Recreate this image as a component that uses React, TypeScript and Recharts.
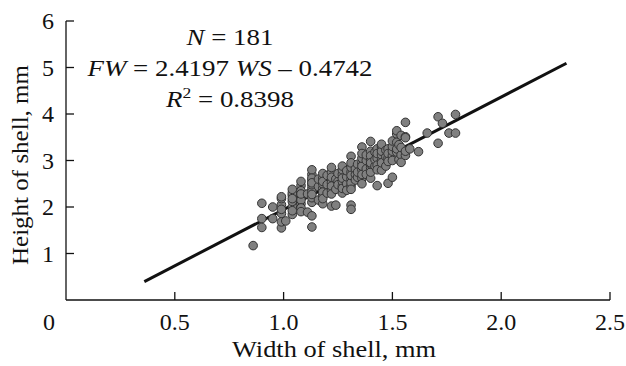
import React from 'react'
import { ScatterChart, Scatter, XAxis, YAxis, ReferenceLine } from 'recharts'

// columns of shell measurements: width (mm) and the heights found at that width
const widthColumns = [
  0.86, 0.90, 0.95, 0.99, 1.01, 1.04, 1.08, 1.11, 1.13, 1.16, 1.18, 1.20, 1.22, 1.24, 1.25,
  1.27, 1.29, 1.31, 1.33, 1.34, 1.36, 1.38, 1.40, 1.42, 1.43, 1.45, 1.47, 1.48, 1.50, 1.52,
  1.53, 1.54, 1.56, 1.58, 1.62, 1.66, 1.71, 1.73, 1.76, 1.79,
]
const heightColumns = [
  [1.17],
  [2.08, 1.75, 1.56],
  [1.75, 2.0],
  [2.05, 1.86, 1.55, 2.18, 2.22, 1.95, 1.68],
  [1.7],
  [2.25, 2.0, 1.84, 2.12, 2.3, 1.92, 2.18, 2.38],
  [2.07, 2.46, 2.35, 2.2, 2.55, 2.15, 1.98, 2.28, 1.9],
  [1.89, 2.28],
  [1.81, 1.57, 2.57, 2.7, 2.8, 2.4, 2.33, 2.48, 2.62, 2.1, 2.2, 2.52, 2.27],
  [2.44, 2.6, 2.15],
  [2.07, 2.25, 2.4, 2.62, 2.72, 2.5, 2.32, 2.55, 2.18],
  [2.48, 2.3, 2.68],
  [2.02, 2.36, 2.52, 2.75, 2.64, 2.45, 2.28, 2.85],
  [2.04, 2.6, 2.38],
  [2.55, 2.72, 2.48],
  [2.45, 2.7, 2.55, 2.8, 2.62, 2.3, 2.88, 2.4],
  [2.5, 2.65, 2.78, 2.36],
  [2.04, 1.95, 3.09, 2.45, 2.6, 2.75, 2.85, 2.52, 2.68, 2.38, 2.95],
  [2.7, 2.58, 2.82],
  [2.64, 2.92, 2.75],
  [2.62, 2.8, 2.95, 3.29, 2.7, 2.88, 3.05, 3.15, 2.5],
  [2.82, 3.0, 2.7, 3.12],
  [2.62, 2.85, 3.0, 3.41, 3.2, 2.75, 2.92, 3.1, 2.95],
  [2.88, 3.18, 3.02],
  [2.46, 3.05, 3.25, 2.9, 2.8, 3.15],
  [2.79, 3.0, 3.12, 3.3, 2.95, 3.2, 3.35],
  [3.08, 3.22, 2.88],
  [2.51, 3.05, 3.25, 3.15, 2.98],
  [2.64, 3.1, 3.2, 3.3, 3.0, 3.42],
  [3.57, 3.64, 3.39, 3.18, 3.25],
  [3.34, 3.02],
  [3.54, 3.12, 3.28, 2.96],
  [3.51, 3.49, 3.82, 3.11, 3.2],
  [3.25],
  [3.19],
  [3.59],
  [3.94, 3.37],
  [3.8],
  [3.59],
  [3.99, 3.59],
]

// FW = 2.4197 WS - 0.4742, drawn between these widths
const slope = 2.4197
const intercept = -0.4742
const fitFrom = 0.36
const fitTo = 2.3

const xTicks = [0, 0.5, 1, 1.5, 2, 2.5]
const yTicks = [1, 2, 3, 4, 5, 6]

const points = widthColumns.flatMap((w, i) => heightColumns[i].map(h => ({ w, h })))
const fitSegment = [
  { x: fitFrom, y: slope * fitFrom + intercept },
  { x: fitTo, y: slope * fitTo + intercept },
]

const serif = '"Liberation Serif", "Times New Roman", serif'

const XTick = (props: any) => {
  const { x, y, payload } = props
  const v = payload.value
  return (
    <g>
      {v !== 0 && <line x1={x} y1={y} x2={x} y2={y - 8} stroke="#111" strokeWidth={1.3} />}
      <text x={v === 0 ? x - 17 : x} y={y + 30} textAnchor="middle" fontFamily={serif} fontSize={24} fill="#111">
        {v === 0 ? '0' : v.toFixed(1)}
      </text>
    </g>
  )
}

const YTick = (props: any) => {
  const { x, y, payload } = props
  return (
    <g>
      <line x1={x} y1={y} x2={x + 8} y2={y} stroke="#111" strokeWidth={1.3} />
      <text x={x - 12} y={y + 8} textAnchor="end" fontFamily={serif} fontSize={24} fill="#111">
        {payload.value}
      </text>
    </g>
  )
}

const Dot = (props: any) => (
  <circle cx={props.cx} cy={props.cy} r={4.3} fill="#808080" stroke="#333" strokeWidth={1} />
)

export default function App() {
  return (
    <div style={{ position: 'absolute', left: 0, top: 0, width: 626, height: 366, background: '#fff' }}>
      <ScatterChart width={626} height={366} margin={{ top: 21, right: 16, left: 0, bottom: 0 }}>
        <XAxis
          type="number"
          dataKey="w"
          domain={[0, 2.5]}
          ticks={xTicks}
          interval={0}
          height={66}
          tickLine={false}
          tickSize={0}
          tickMargin={0}
          tick={XTick}
          axisLine={{ stroke: '#111', strokeWidth: 1.3 }}
          label={{
            content: ({ viewBox }: any) => (
              <text x={viewBox.x + viewBox.width / 2 - 4} y={357} textAnchor="middle" fontFamily={serif} fontSize={24}
                textLength={204} lengthAdjust="spacingAndGlyphs" fill="#111">
                Width of shell, mm
              </text>
            ),
          }}
        />
        <YAxis
          type="number"
          dataKey="h"
          domain={[0, 6]}
          ticks={yTicks}
          interval={0}
          width={66}
          tickLine={false}
          tickSize={0}
          tickMargin={0}
          tick={YTick}
          axisLine={{ stroke: '#111', strokeWidth: 1.3 }}
          label={{
            content: () => (
              <text x={0} y={0} transform="translate(28,165) rotate(-90)" textAnchor="middle" fontFamily={serif} fontSize={24}
                textLength={200} lengthAdjust="spacingAndGlyphs" fill="#111">
                Height of shell, mm
              </text>
            ),
          }}
        />
        <ReferenceLine segment={fitSegment} stroke="#111" strokeWidth={3} />
        <Scatter data={points} shape={Dot} isAnimationActive={false} />
      </ScatterChart>
      <div style={{ position: 'absolute', left: 0, top: 22, width: 460, textAlign: 'center', fontFamily: serif, fontSize: 23, lineHeight: '31px', color: '#111', transform: 'scaleX(1.17)', transformOrigin: '230px 0' }}>
        <div><i>N</i> = 181</div>
        <div><i>FW</i> = 2.4197 <i>WS</i> – 0.4742</div>
        <div><i>R</i><sup style={{ fontSize: 15, lineHeight: 0 }}>2</sup> = 0.8398</div>
      </div>
    </div>
  )
}
